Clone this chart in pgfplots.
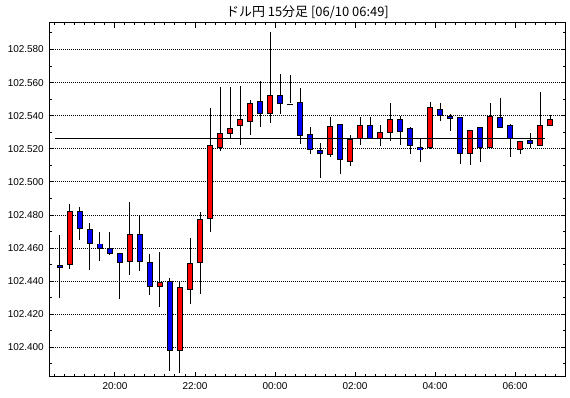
\documentclass[border=0pt]{standalone}
\usepackage{pgfplots}
\usepackage{pgfplotstable}
\pgfplotsset{compat=1.18}
\usepackage{fontspec}
\setmainfont{Liberation Sans}
\newfontfamily\cjk{Noto Sans CJK JP}
% x = hours from 00:00 (candle centre), o h l c
\pgfplotstableread{
x o h l c
-5.125 102.450 102.487 102.448 102.482
-3.625 102.452 102.488 102.444 102.468
-2.875 102.437 102.458 102.425 102.440
-2.375 102.398 102.441 102.386 102.436
-2.125 102.436 102.467 102.427 102.452
-1.875 102.452 102.482 102.432 102.478
-1.625 102.478 102.545 102.470 102.522
-1.375 102.522 102.557 102.518 102.531
-1.125 102.531 102.559 102.528 102.534
-0.875 102.534 102.560 102.524 102.538
-0.625 102.538 102.551 102.530 102.549
-0.125 102.542 102.592 102.537 102.553
1.375 102.518 102.539 102.515 102.535
1.875 102.514 102.529 102.510 102.527
2.125 102.527 102.541 102.524 102.535
2.625 102.527 102.536 102.523 102.531
2.875 102.531 102.548 102.525 102.539
3.875 102.521 102.549 102.521 102.545
4.875 102.518 102.532 102.512 102.532
5.375 102.521 102.548 102.521 102.540
6.125 102.520 102.525 102.519 102.525
6.625 102.523 102.5545 102.522 102.535
6.875 102.535 102.540 102.535 102.539
}\upcandles
\pgfplotstableread{
x o h l c
-5.375 102.451 102.468 102.430 102.450
-4.875 102.482 102.485 102.465 102.472
-4.625 102.472 102.476 102.448 102.464
-4.375 102.464 102.471 102.453 102.461
-4.125 102.461 102.471 102.457 102.458
-3.875 102.458 102.458 102.430 102.452
-3.375 102.468 102.481 102.447 102.452
-3.125 102.452 102.458 102.433 102.437
-2.625 102.440 102.443 102.387 102.398
-0.375 102.549 102.562 102.534 102.542
0.125 102.553 102.566 102.542 102.548
0.375 102.548 102.565 102.548 102.548
0.625 102.548 102.559 102.525 102.528
0.875 102.529 102.534 102.518 102.520
1.125 102.520 102.525 102.504 102.518
1.625 102.535 102.536 102.506 102.514
2.375 102.535 102.539 102.527 102.527
3.125 102.539 102.541 102.523 102.532
3.375 102.532 102.534 102.518 102.522
3.625 102.522 102.527 102.513 102.521
4.125 102.545 102.548 102.537 102.541
4.375 102.541 102.542 102.532 102.540
4.625 102.540 102.540 102.512 102.518
5.125 102.533 102.533 102.513 102.521
5.625 102.540 102.551 102.534 102.534
5.875 102.534 102.536 102.516 102.526
6.375 102.525 102.531 102.522 102.523
}\downcandles
\pgfplotsset{
  nomark/.style={only marks, mark=*, mark size=0pt, mark options={draw=none, fill=none}, forget plot},
  wick/.style={nomark,
    error bars/.cd, y dir=both, y explicit, error mark=none,
    error bar style={black, line width=1bp, solid}},
  bodyedge/.style={nomark,
    error bars/.cd, y dir=both, y explicit, error mark=none,
    error bar style={black, line width=6.7bp, solid}},
  bodyfill/.style={nomark,
    error bars/.cd, y dir=both, y explicit, error mark=none,
    error bar style={#1, line width=4.7bp, solid}},
}
\begin{document}
\begin{tikzpicture}
\begin{axis}[
  at={(0,0)}, anchor=south west,
  scale only axis, width=516.4bp, height=354bp,
  xmin=-5.6425, xmax=7.2675, ymin=102.3823, ymax=102.5962,
  axis line style={line width=1bp, black},
  font=\fontsize{10}{12}\selectfont,
  title={ドル円 15分足 [06/10 06:49]},
  title style={font=\fontsize{13}{15}\selectfont\cjk, at={(0.5,1)}, anchor=center, yshift=4.7bp},
  xtick={-4,-2,0,2,4,6},
  xticklabels={20:00,22:00,00:00,02:00,04:00,06:00},
  minor xtick={-5.5,-5.25,...,7.25},
  ytick={102.40,102.42,102.44,102.46,102.48,102.50,102.52,102.54,102.56,102.58},
  minor ytick={102.39,102.41,102.43,102.45,102.47,102.49,102.51,102.53,102.55,102.57,102.59},
  yticklabel style={xshift=-2bp, /pgf/number format/.cd, fixed, fixed zerofill, precision=3, 1000 sep={}, assume math mode=true},
  xticklabel style={yshift=-2.5bp},
  tick align=inside,
  major tick length=5bp, minor tick length=2.5bp,
  every tick/.style={black, line width=1bp},
  ymajorgrids,
  major grid style={black, line width=1bp, dash pattern=on 1bp off 1bp},
]
% wicks
\addplot[wick] table[x=x, y expr={(\thisrow{h}+\thisrow{l})/2}, y error expr={(\thisrow{h}-\thisrow{l})/2}] {\upcandles};
\addplot[wick] table[x=x, y expr={(\thisrow{h}+\thisrow{l})/2}, y error expr={(\thisrow{h}-\thisrow{l})/2}] {\downcandles};
% body outlines
\addplot[bodyedge] table[x=x, y expr={(\thisrow{o}+\thisrow{c})/2}, y error expr={abs(\thisrow{c}-\thisrow{o})/2+0.0003}] {\upcandles};
\addplot[bodyedge] table[x=x, y expr={(\thisrow{o}+\thisrow{c})/2}, y error expr={abs(\thisrow{c}-\thisrow{o})/2+0.0003}] {\downcandles};
% body fills
\addplot[bodyfill=red] table[x=x, y expr={(\thisrow{o}+\thisrow{c})/2}, y error expr={max(abs(\thisrow{c}-\thisrow{o})/2-0.0003,0)}] {\upcandles};
\addplot[bodyfill=blue] table[x=x, y expr={(\thisrow{o}+\thisrow{c})/2}, y error expr={max(abs(\thisrow{c}-\thisrow{o})/2-0.0003,0)}] {\downcandles};
% reference line
\addplot[black, line width=1bp, mark=none] coordinates {(-5.5,102.5265) (6.75,102.5265)};
\end{axis}
\pgfresetboundingbox
\path[use as bounding box] ([xshift=-49.3bp,yshift=-21.3bp]current axis.south west) rectangle ([xshift=4.3bp,yshift=22.7bp]current axis.north east);
\end{tikzpicture}
\end{document}
